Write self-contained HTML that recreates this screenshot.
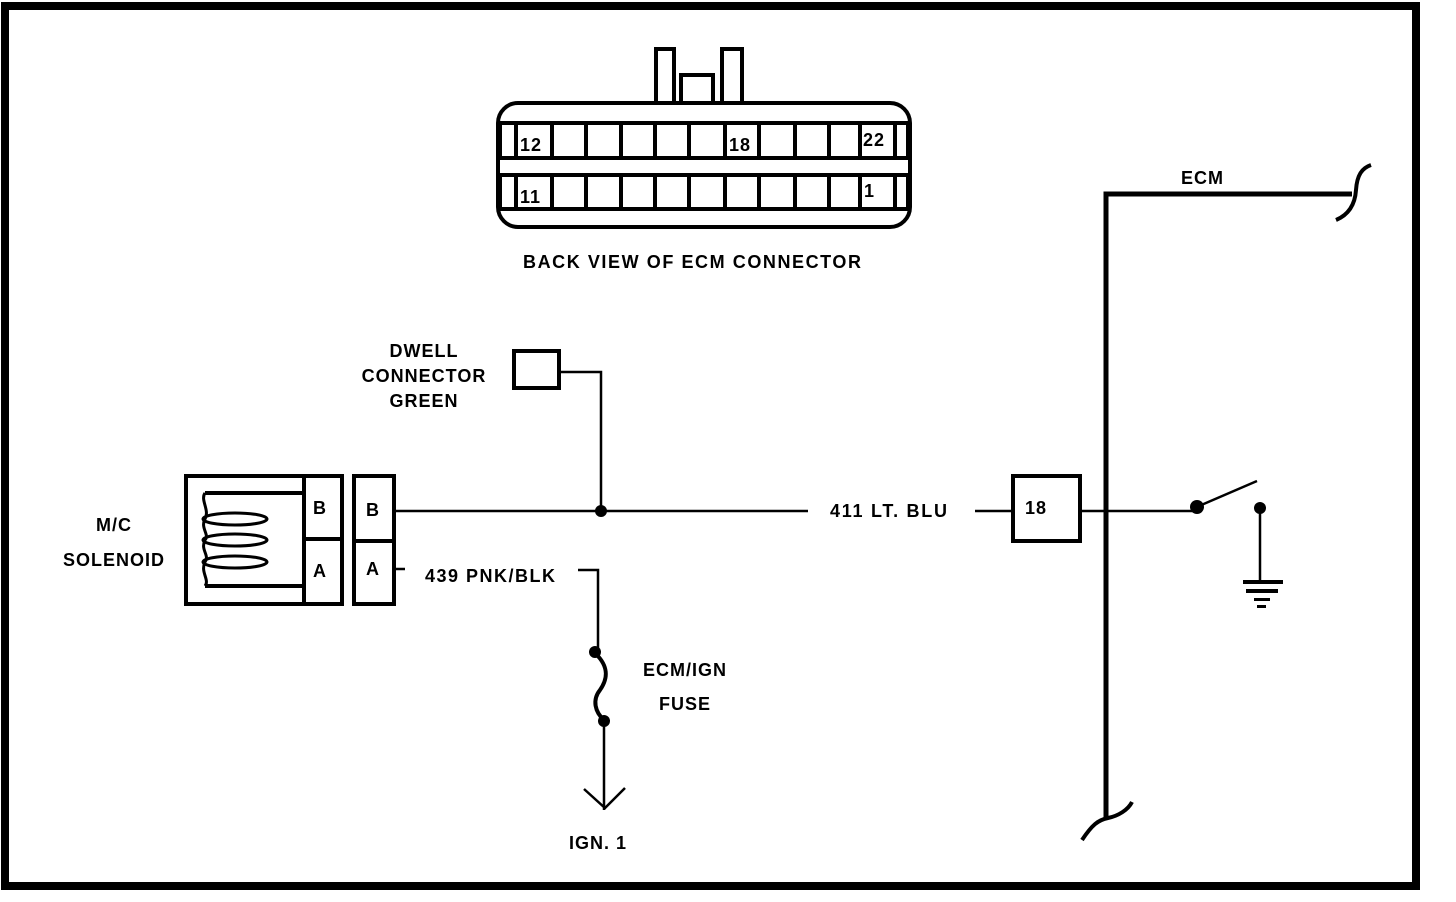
<!DOCTYPE html>
<html><head><style>body{margin:0;background:#fff}svg{display:block}text{font-family:"Liberation Sans",sans-serif;font-weight:bold;font-size:18px;fill:#000;letter-spacing:1px}</style></head><body>
<svg width="1456" height="902" viewBox="0 0 1456 902" xmlns="http://www.w3.org/2000/svg">
<rect x="5" y="6" width="1411" height="880" fill="none" stroke="#000" stroke-width="8"/>
<g fill="none" stroke="#000" stroke-width="4">
<rect x="656" y="49" width="18" height="54"/>
<rect x="681" y="75" width="32" height="28"/>
<rect x="722" y="49" width="20" height="54"/>
<rect x="498" y="103" width="412" height="124" rx="20" fill="#fff"/>
<rect x="500" y="123" width="408" height="35" fill="#fff"/>
<rect x="500" y="175" width="408" height="34" fill="#fff"/>
<path d="M516 123V158M552 123V158M586 123V158M621 123V158M655 123V158M689 123V158M725 123V158M759 123V158M795 123V158M829 123V158M860 123V158M895 123V158M516 175V209M552 175V209M586 175V209M621 175V209M655 175V209M689 175V209M725 175V209M759 175V209M795 175V209M829 175V209M860 175V209M895 175V209"/>
<rect x="186" y="476" width="156" height="128" stroke-width="4"/>
<path d="M304 476V604M304 539H342M205 493H304M205 586H304"/>
<path d="M205 493C200 500 210 510 205 519C200 528 210 535 205 540C200 550 210 555 205 562C200 572 210 580 205 586" stroke-width="3"/>
<ellipse cx="235" cy="519" rx="32" ry="6" stroke-width="3"/>
<ellipse cx="235" cy="540" rx="32" ry="6" stroke-width="3"/>
<ellipse cx="235" cy="562" rx="32" ry="6" stroke-width="3"/>
<rect x="354" y="476" width="40" height="128"/>
<path d="M354 541H394"/>
<rect x="514" y="351" width="45" height="37"/>
<rect x="1013" y="476" width="67" height="65"/>
<path d="M1106 820V194H1352" stroke-width="5"/>
<path d="M1336 220C1348 215 1355 205 1356 190C1357 175 1362 168 1371 165" stroke-width="4"/>
<path d="M1082 840C1092 825 1098 820 1108 818C1118 816 1128 810 1132 802" stroke-width="4"/>
</g>
<g fill="none" stroke="#000" stroke-width="2.5">
<path d="M395 511H808M975 511H1013M1080 511H1197M601 511V372H560M395 569H405M578 570H598V650M604 722V810M584 789L605 808L625 788M1199 506L1257 481M1260 508V583"/>
<path d="M596 654C610 668 607 680 600 690C592 700 595 712 604 720" stroke-width="4"/>
</g>
<g fill="#000">
<circle cx="601" cy="511" r="6"/><circle cx="595" cy="652" r="6"/><circle cx="604" cy="721" r="6"/>
<circle cx="1197" cy="507" r="7"/><circle cx="1260" cy="508" r="6"/>
<rect x="1243" y="580" width="40" height="4"/><rect x="1246" y="589" width="32" height="4"/><rect x="1254" y="598" width="16" height="3"/><rect x="1257" y="605" width="9" height="3"/>
</g>
<text x="520" y="151">12</text><text x="729" y="151">18</text><text x="863" y="146">22</text>
<text x="520" y="203">11</text><text x="864" y="197">1</text>
<text x="523" y="268" textLength="339">BACK VIEW OF ECM CONNECTOR</text>
<text x="1181" y="184">ECM</text>
<text x="424" y="357" text-anchor="middle">DWELL</text>
<text x="424" y="382" text-anchor="middle">CONNECTOR</text>
<text x="424" y="407" text-anchor="middle">GREEN</text>
<text x="114" y="531" text-anchor="middle">M/C</text>
<text x="114" y="566" text-anchor="middle">SOLENOID</text>
<text x="313" y="514">B</text><text x="313" y="577">A</text>
<text x="366" y="516">B</text><text x="366" y="575">A</text>
<text x="830" y="517" textLength="118">411 LT. BLU</text>
<text x="1025" y="514">18</text>
<text x="425" y="582" textLength="131">439 PNK/BLK</text>
<text x="685" y="676" text-anchor="middle">ECM/IGN</text>
<text x="685" y="710" text-anchor="middle">FUSE</text>
<text x="598" y="849" text-anchor="middle">IGN. 1</text>
</svg>
</body></html>
